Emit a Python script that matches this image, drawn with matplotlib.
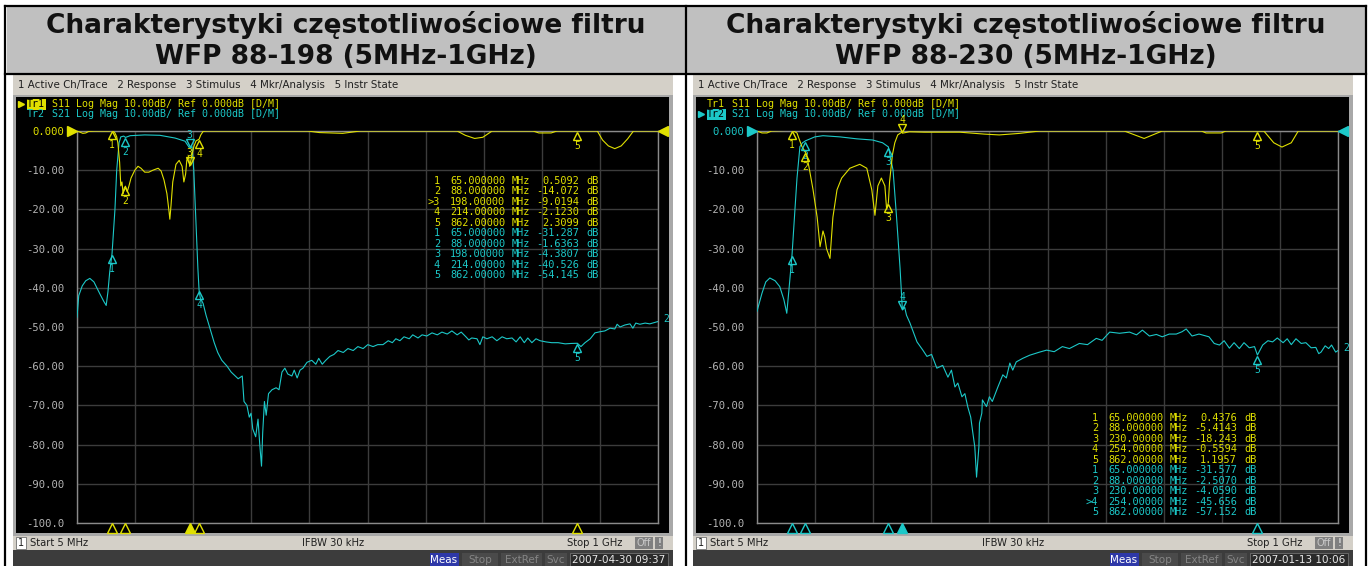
import numpy as np
import matplotlib
matplotlib.use('Agg')
import matplotlib.pyplot as plt
from matplotlib.patches import Rectangle
from matplotlib import transforms

W, H = 1369, 566

# ---- dane: filtr WFP 88-198 ----
s21_l_f = [5, 8, 14, 20, 27, 34, 44, 51, 55, 58, 61, 65, 70, 73, 77, 80, 85, 88, 96, 121,
           147, 173, 190, 198, 202, 205, 209, 212, 214, 216, 221, 226, 233, 240, 246, 253, 262, 269, 276, 281,
           288, 291, 296, 300, 303, 306, 311, 315, 318, 321, 323, 326, 329, 333, 339, 346, 351, 356, 361, 366,
           373, 377, 382, 387, 392, 399, 407, 414, 419, 425, 431, 438, 445, 452, 461, 469, 478, 486, 495, 503,
           512, 520, 529, 538, 545, 551, 558, 565, 574, 580, 589, 596, 604, 613, 622, 630, 639, 647, 656, 663,
           671, 676, 681, 690, 695, 700, 707, 716, 724, 733, 741, 750, 757, 764, 771, 777, 784, 791, 798, 808,
           818, 829, 841, 851, 862, 868, 875, 884, 892, 901, 909, 918, 926, 930, 935, 943, 952, 957, 962, 969,
           978, 986, 995, 1000]
s21_l_db = [-47.5, -42, -39.5, -38.2, -37.6, -38.5, -41.5, -43.5, -44.5, -41, -36, -31.3, -20, -10, -3, -1.5, -1.3, -1.64, -1.2, -1.0,
            -1.1, -1.8, -2.6, -4.4, -4, -10, -24, -35, -40.5, -42.5, -44, -47, -50.5, -54, -56.5, -58.5, -60, -61.5, -62.5, -63.2,
            -62.5, -69, -70, -73, -72, -76, -78, -73.5, -80, -85.5, -77, -69, -72.5, -67, -66, -65.5, -66, -61.5, -60.5, -62,
            -62.5, -61, -63, -61, -60.5, -59, -58.5, -59.5, -58, -59.5, -58.5, -57.5, -57, -56, -56.5, -55.5, -56, -55, -55.5, -54.5,
            -55, -54.5, -54.5, -53.5, -54, -53, -53.5, -52.5, -53, -52, -52.8, -52, -52.3, -51.5, -52, -51.3, -51.8, -51, -52, -51.3,
            -52.5, -53.3, -52.8, -53, -54.5, -52.5, -53, -52.5, -53.5, -52.5, -53, -52.8, -53.8, -52.5, -54, -52.8, -54, -53, -53.5, -53.8,
            -54, -54, -54.3, -54.2, -54.15, -55, -54, -53, -51.5, -51.2, -51, -50.3, -50.5, -49.3, -50, -49.5, -49.2, -50.3, -49, -49.3,
            -49, -49.2, -48.8, -48.6]
s11_l_f = [5, 10, 15, 20, 25, 35, 50, 60, 65, 70, 73, 75, 78, 80, 82, 84, 86, 88, 91, 94,
           97.5, 104, 109.5, 114.6, 121, 128, 135, 144, 149, 154, 159, 162.6, 164, 166, 169, 174.5, 180, 185, 188, 191,
           193, 196, 198, 202, 205, 209, 214, 217, 221, 226, 400, 420, 460, 490, 656, 670, 686, 700, 716, 786,
           796, 817, 827, 896, 905, 915, 926, 937, 948, 958, 1000]
s11_l_db = [0, -0.3, -0.6, -0.5, -0.1, 0, 0, 0, 0.2, -0.5, -1.5, -3, -8, -14, -13, -16, -14.5, -14.07, -15.5, -14,
            -12, -10, -9, -9.5, -10.5, -10.5, -10, -9.5, -10.2, -12.5, -16, -20.5, -22.5, -19, -13, -8.5, -7.5, -9, -13, -11,
            -7.5, -6.5, -9.02, -6, -4, -2.5, -2.12, -1, -0.1, 0, 0, -0.4, -0.6, 0, 0, -1.1, -1.9, -1.6, 0, 0,
            -0.5, -0.5, 0, 0, -2.3, -3.8, -4.5, -3.8, -2.0, 0, 0]
mk_l_f = [65, 88, 198, 214, 862]
mk_l_s11 = [0.5092, -14.072, -9.0194, -2.1230, 2.3099]
mk_l_s21 = [-31.287, -1.6363, -4.3807, -40.526, -54.145]

# ---- dane: filtr WFP 88-230 ----
s21_r_f = [5, 13.5, 20, 27, 36, 44, 51, 56, 60, 65, 70, 73.5, 78.5, 83, 88, 104, 118, 147, 176, 203,
           220, 230, 234, 238, 244, 250, 254, 258, 261, 267, 279, 289, 296, 304, 313, 323, 332, 338, 344, 349,
           356, 361, 366, 371, 374, 378, 381, 385, 386, 390, 391, 398, 403, 408, 417, 426, 432, 438, 443, 449,
           460, 472, 489, 501, 514, 528, 540, 557, 571, 586, 596, 609, 626, 643, 655, 665, 677, 689, 699, 711,
           723, 733, 740, 750, 762, 779, 788, 797, 805, 814, 822, 831, 839, 848, 857, 862, 871, 880, 888, 896,
           906, 913, 920, 928, 937, 945, 954, 962, 967, 971, 978, 984, 989, 996, 1000]
s21_r_db = [-46, -41.4, -38.5, -37.5, -38.2, -39.7, -43, -46.5, -40, -31.577, -20, -12, -4, -3, -2.507, -1.5, -1.2, -1.5, -2.0, -2.3,
            -3, -4.059, -7, -10, -22, -35, -45.656, -45, -47, -49, -53.8, -55.9, -57.5, -57, -60.5, -59.8, -62.8, -61, -65.3, -64.3,
            -67.8, -67, -70.4, -73, -76.3, -80.6, -88.3, -80.6, -74.5, -72, -68.6, -70.3, -67.8, -69, -65.5, -62.2, -63, -59.2, -61, -58.9,
            -58, -57.2, -56.4, -55.9, -56.3, -55, -55.5, -54.2, -54.5, -52.9, -53.4, -51.3, -51.6, -51.3, -52, -50.8, -52.3, -51.9, -52.5, -51.8,
            -51.8, -51.2, -50.5, -52.3, -51.8, -52.5, -54.2, -54.6, -53.5, -55.4, -54, -55.5, -54, -55.3, -55, -57.15, -54.6, -53.5, -53.8, -52.8,
            -54, -53, -54.5, -53, -54.2, -54, -55.3, -55.2, -56.8, -56.4, -54.8, -55.5, -54.6, -56.4, -56]
s11_r_f = [5, 13.5, 22, 30, 65, 73.4, 82, 88, 90, 95, 101, 108, 113, 118, 121, 124, 130, 135, 142, 150,
           164, 181, 193, 201.6, 207, 212, 218, 224, 227, 230, 232, 237, 241, 246, 253, 254, 266, 292, 352, 395,
           420, 455, 472, 489, 634, 668, 699, 766, 774, 800, 808, 873, 890, 904, 920, 932, 1000]
s11_r_db = [0, -0.5, -0.5, 0, 0.2, -0.5, -4, -5.41, -6, -10, -15, -22, -29.5, -25.5, -27, -30, -32.5, -22, -15, -12,
            -9.5, -8.5, -9.5, -15, -21.5, -14, -12, -14, -20, -18.24, -13, -6, -3, -1, -0.3, -0.56, -0.2, -0.3, -0.3, -0.8,
            -1.0, -0.6, -0.3, 0, 0, -1.9, 0, 0, -0.5, -0.5, 0, 0, -3, -4.1, -3, 0, 0]
mk_r_f = [65, 88, 230, 254, 862]
mk_r_s11 = [0.4376, -5.4143, -18.243, -0.5594, 1.1957]
mk_r_s21 = [-31.577, -2.5070, -4.0590, -45.656, -57.152]

yticks = [-100, -90, -80, -70, -60, -50, -40, -30, -20, -10, 0]
ylabels = ['-100.0', '-90.00', '-80.00', '-70.00', '-60.00', '-50.00', '-40.00', '-30.00', '-20.00', '-10.00', '0.000']

YEL = '#e0e000'
CYN = '#1cc8c8'
MONO = 'DejaVu Sans Mono'

fig = plt.figure(figsize=(W / 100, H / 100), dpi=100)
fig.patch.set_facecolor('white')
ov = fig.add_axes([0, 0, 1, 1], zorder=0)
ov.set_xlim(0, W)
ov.set_ylim(H, 0)
ov.axis('off')


def box(x0, y0, x1, y1, fc, ec='none', lw=0, z=1):
    ov.add_patch(Rectangle((x0, y0), x1 - x0, y1 - y0, facecolor=fc, edgecolor=ec, linewidth=lw, zorder=z))


def sig(v, n):
    d = len(str(int(abs(v))))
    if abs(v) < 1:
        return f'{v:.{n - 1}f}'
    return f'{v:.{n - d}f}'


def panel(ox, title2, s11_f, s11_db, s21_f, s21_db, mk_f, mk_s11, mk_s21, act, act_tr, tab_x, tab_y, date):
    act_col = YEL if act_tr == 1 else CYN
    # naglowek tabeli
    box(ox + 7, 7, ox + 685, 73, '#c0c0c0')
    ov.text(ox + 346, 25, 'Charakterystyki częstotliwościowe filtru', ha='center', va='center',
            fontsize=19, fontweight='bold', color='#111111')
    ov.text(ox + 346, 57, title2, ha='center', va='center', fontsize=19, fontweight='bold', color='#111111')
    # okno analizatora
    box(ox + 13, 75, ox + 673, 96, '#d4d0c8')
    ov.text(ox + 18, 85, '1 Active Ch/Trace   2 Response   3 Stimulus   4 Mkr/Analysis   5 Instr State',
            fontsize=7.4, va='center', color='#202020')
    box(ox + 13, 95, ox + 673, 536, '#a8a8a8')
    box(ox + 16, 97, ox + 669, 533, 'black')
    box(ox + 13, 536, ox + 673, 550, '#d4d0c8')
    box(ox + 16, 537, ox + 26, 549, 'white', ec='#707070', lw=0.6)
    ov.text(ox + 21, 543, '1', ha='center', va='center', fontsize=7, color='#202020')
    ov.text(ox + 30, 543, 'Start 5 MHz', va='center', fontsize=7.2, color='#202020')
    ov.text(ox + 333, 543, 'IFBW 30 kHz', ha='center', va='center', fontsize=7.2, color='#202020')
    ov.text(ox + 622, 543, 'Stop 1 GHz', ha='right', va='center', fontsize=7.2, color='#202020')
    box(ox + 635, 537, ox + 653, 549, '#808080')
    ov.text(ox + 644, 543, 'Off', ha='center', va='center', fontsize=7, color='#c8c8c8')
    box(ox + 655, 537, ox + 663, 549, '#808080')
    ov.text(ox + 659, 543, '!', ha='center', va='center', fontsize=7, color='white')
    box(ox + 13, 550, ox + 673, 566, '#3c3c3c')
    box(ox + 430, 553, ox + 459, 566, '#2e38a8')
    ov.text(ox + 444, 560, 'Meas', ha='center', va='center', fontsize=7.5, color='white')
    for x0, x1, s in [(462, 498, 'Stop'), (501, 542, 'ExtRef'), (545, 567, 'Svc')]:
        box(ox + x0, 553, ox + x1, 566, '#4a4a4a')
        ov.text(ox + (x0 + x1) / 2, 560, s, ha='center', va='center', fontsize=7.5, color='#858585')
    box(ox + 570, 553, ox + 668, 566, '#2a2a2a', ec='#707070', lw=0.6)
    ov.text(ox + 619, 560, date, ha='center', va='center', fontsize=7.5, color='#e8e8e8')

    # opisy sladow
    for row, (tr, col, sp) in enumerate([(1, YEL, 'S11'), (2, CYN, 'S21')]):
        y = 104 + 10 * row
        if tr == act_tr:
            ov.plot(ox + 21, y, marker='>', ms=5, color=col, zorder=3)
            ov.text(ox + 27, y, f'Tr{tr}', va='center', family=MONO, fontsize=7.2, color='black', zorder=3,
                    bbox=dict(boxstyle='square,pad=0.05', fc=col, ec='none'))
        else:
            ov.text(ox + 27, y, f'Tr{tr}', va='center', family=MONO, fontsize=7.2, color=col, zorder=3)
        ov.text(ox + 52, y, f'{sp} Log Mag 10.00dB/ Ref 0.000dB [D/M]', va='center', family=MONO,
                fontsize=7.2, color=col, zorder=3)

    # wykres
    ax = fig.add_axes([(ox + 77) / W, (H - 523) / H, 581 / W, 392 / H], zorder=2)
    ax.set_facecolor('black')
    ax.set_xlim(5, 1000)
    ax.set_ylim(-100, 0)
    ax.set_xticks(np.linspace(5, 1000, 11))
    ax.set_xticklabels([])
    ax.set_yticks(yticks)
    ax.set_yticklabels(ylabels, family=MONO, fontsize=7.6, color='#b4b4b4')
    ax.get_yticklabels()[-1].set_color(act_col)
    ax.tick_params(length=0, pad=9)
    ax.grid(color='#3c3c3c', lw=1.0)
    for sp in ax.spines.values():
        sp.set_color('#8a8a8a')
        sp.set_linewidth(1.0)
    ax.plot(s21_f, s21_db, color=CYN, lw=0.8, zorder=3)
    ax.plot(s11_f, s11_db, color=YEL, lw=0.8, zorder=4)
    ax.annotate('2', (s21_f[-1], s21_db[-1]), xytext=(5, 3), textcoords='offset pixels', family=MONO,
                fontsize=7, color=CYN, va='center', annotation_clip=False)

    # znaczniki na sladach
    up = transforms.offset_copy(ax.transData, fig=fig, x=0, y=5, units='dots')
    dn = transforms.offset_copy(ax.transData, fig=fig, x=0, y=-5, units='dots')
    for f_tr, db_tr, col in [(s21_f, s21_db, CYN), (s11_f, s11_db, YEL)]:
        for i, f in enumerate(mk_f):
            v = np.interp(f, f_tr, db_tr)
            n = i + 1
            if n == act:
                ax.plot(f, v, marker='v', ms=6, mfc='none', mec=col, mew=1, transform=up, clip_on=False, zorder=5)
                ax.annotate(str(n), (f, v), xytext=(0, 13), textcoords='offset pixels', ha='center', va='center',
                            family=MONO, fontsize=7, color=col, annotation_clip=False)
            else:
                ax.plot(f, v, marker='^', ms=6, mfc='none', mec=col, mew=1, transform=dn, clip_on=False, zorder=5)
                ax.annotate(str(n), (f, v), xytext=(0, -15), textcoords='offset pixels', ha='center', va='center',
                            family=MONO, fontsize=7, color=col, annotation_clip=False)
    # wskazniki pod osia
    for i, f in enumerate(mk_f):
        filled = act_col if i + 1 == act else 'none'
        ax.plot(f, -101.3, marker='^', ms=7, mfc=filled, mec=act_col, mew=1, clip_on=False, zorder=5)
    ax.plot(5, 0, marker='>', ms=7, color=act_col, clip_on=False, zorder=6,
            transform=transforms.offset_copy(ax.transData, fig=fig, x=-5, y=0, units='dots'))
    ax.plot(1000, 0, marker='<', ms=7, color=act_col, clip_on=False, zorder=6,
            transform=transforms.offset_copy(ax.transData, fig=fig, x=5, y=0, units='dots'))

    # tabela odczytow markerow (rysowana w osi wykresu, zeby byla nad siatka)
    rows = [(YEL, v) for v in mk_s11] + [(CYN, v) for v in mk_s21]
    for k, (col, v) in enumerate(rows):
        n = k % 5 + 1
        y = tab_y + k * 10.45
        lab = str(n)
        if n == act and col == act_col:
            lab = '>' + lab
        kw = dict(va='center', family=MONO, fontsize=7.4, color=col, zorder=6, transform=ov.transData)
        ax.text(ox + tab_x + 12, y, lab, ha='right', **kw)
        ax.text(ox + tab_x + 22, y, sig(mk_f[n - 1], 8), **kw)
        ax.text(ox + tab_x + 84, y, 'MHz', **kw)
        ax.text(ox + tab_x + 151, y, sig(v, 5), ha='right', **kw)
        ax.text(ox + tab_x + 158, y, 'dB', **kw)


panel(0, 'WFP 88-198 (5MHz-1GHz)', s11_l_f, s11_l_db, s21_l_f, s21_l_db, mk_l_f, mk_l_s11, mk_l_s21,
      3, 1, 428, 181, '2007-04-30 09:37')
panel(680, 'WFP 88-230 (5MHz-1GHz)', s11_r_f, s11_r_db, s21_r_f, s21_r_db, mk_r_f, mk_r_s11, mk_r_s21,
      4, 2, 406, 418, '2007-01-13 10:06')

# ramki tabeli
for x in [5, 686, 1366]:
    ov.plot([x, x], [6, H], color='black', lw=1.6, zorder=5)
for y in [6, 74]:
    ov.plot([5, 1366], [y, y], color='black', lw=1.6, zorder=5)

fig.savefig('out.png', dpi=100)
